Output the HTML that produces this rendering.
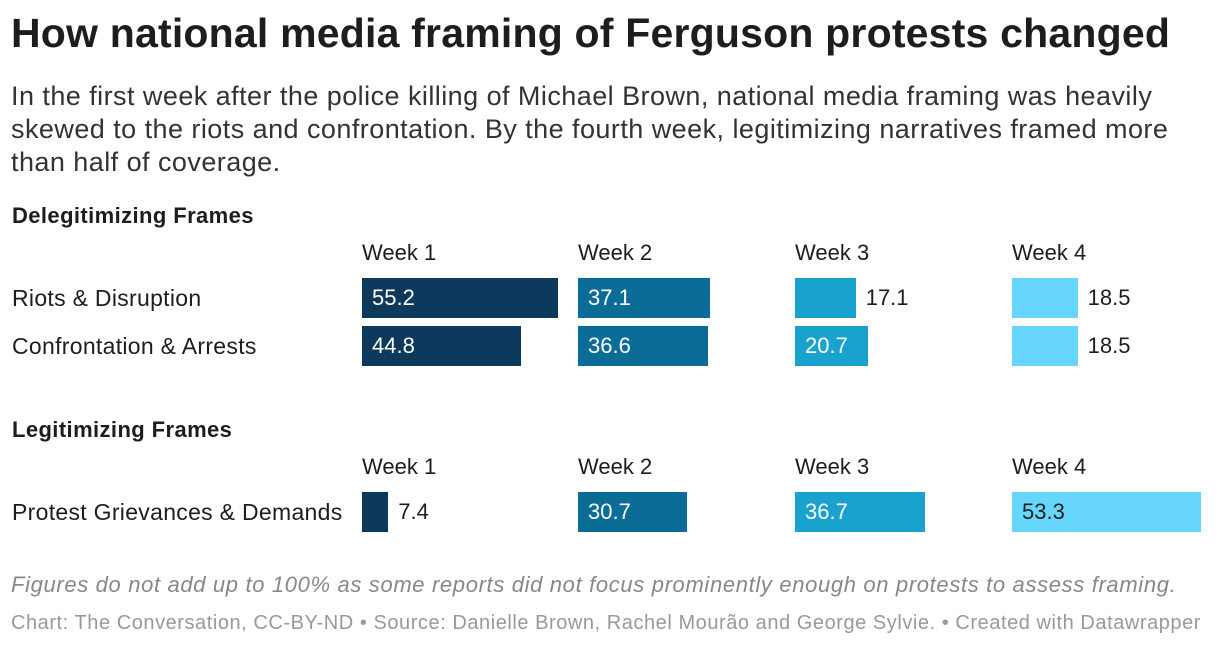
<!DOCTYPE html>
<html><head><meta charset="utf-8">
<style>
body{margin:0;width:1220px;height:646px;background:#fff;font-family:"Liberation Sans",sans-serif;color:#1d1d1d;position:relative;overflow:hidden}
.abs{position:absolute;white-space:nowrap}
h1{position:absolute;left:11px;top:10px;margin:0;font-size:41px;letter-spacing:0.2px;font-weight:bold}
.sub{position:absolute;left:11px;top:80px;font-size:27px;letter-spacing:0.45px;line-height:33px;color:#333;width:1192px}
.sec{font-size:22px;letter-spacing:0.4px;font-weight:bold}
.wk{font-size:22px}
.lab{font-size:23px;letter-spacing:0.3px}
.bar{position:absolute;height:40px}
.val{position:absolute;font-size:22px;line-height:40px}
.note{font-size:22px;letter-spacing:0.65px;font-style:italic;color:#888}
.foot{font-size:20px;letter-spacing:0.55px;color:#999}
</style></head><body>
<h1>How national media framing of Ferguson protests changed</h1>
<div class="sub">In the first week after the police killing of Michael Brown, national media framing was heavily skewed to the riots and confrontation. By the fourth week, legitimizing narratives framed more than half of coverage.</div>
<div id="chart"></div>
<div class="abs note" style="left:11px;top:572px">Figures do not add up to 100% as some reports did not focus prominently enough on protests to assess framing.</div>
<div class="abs foot" style="left:11px;top:612px">Chart: The Conversation, CC-BY-ND • Source: Danielle Brown, Rachel Mourão and George Sylvie. • Created with Datawrapper</div>
<script>
const weeks=["Week 1","Week 2","Week 3","Week 4"];
const sections=["Delegitimizing Frames","Legitimizing Frames"];
const rowLabels=[["Riots & Disruption","Confrontation & Arrests"],["Protest Grievances & Demands"]];
const riots=[55.2,37.1,17.1,18.5];
const confront=[44.8,36.6,20.7,18.5];
const grievances=[7.4,30.7,36.7,53.3];
const values=[[riots,confront],[grievances]];
const colors=["#0d3a5c","#0b6d97","#1aa2cf","#66d6fd"];
const colX=[362,578,795,1012];
const scale=v=>v*3.55;
const c=document.getElementById('chart');
function add(cls,txt,l,t){const d=document.createElement('div');d.className='abs '+cls;d.textContent=txt;d.style.left=l+'px';d.style.top=t+'px';c.appendChild(d);return d;}
const secTop=[203,417];
sections.forEach((s,si)=>{
  const y0=secTop[si];
  const st=add('sec',s,12,y0);
  
  
  weeks.forEach((w,wi)=>{
    const h=add('wk',w,colX[wi],y0+37);
    
    
  });
  rowLabels[si].forEach((rl,ri)=>{
    const by=y0+75+ri*48;
    const l=add('lab',rl,12,by+7);
    
    
    values[si][ri].forEach((v,wi)=>{
      const b=document.createElement('div');b.className='bar';
      b.style.left=colX[wi]+'px';b.style.top=by+'px';b.style.width=scale(v)+'px';b.style.background=colors[wi];
      
      
      c.appendChild(b);
      const t=document.createElement('div');t.className='val';t.textContent=v.toFixed(1);t.style.top=by+'px';
      
      
      if(scale(v)>70){t.style.left=(colX[wi]+10)+'px';t.style.color=wi===3?'#1d1d1d':'#fff';}
      else{t.style.left=(colX[wi]+scale(v)+10)+'px';t.style.color='#1d1d1d';}
      c.appendChild(t);
    });
  });
});
</script>
</body></html>
